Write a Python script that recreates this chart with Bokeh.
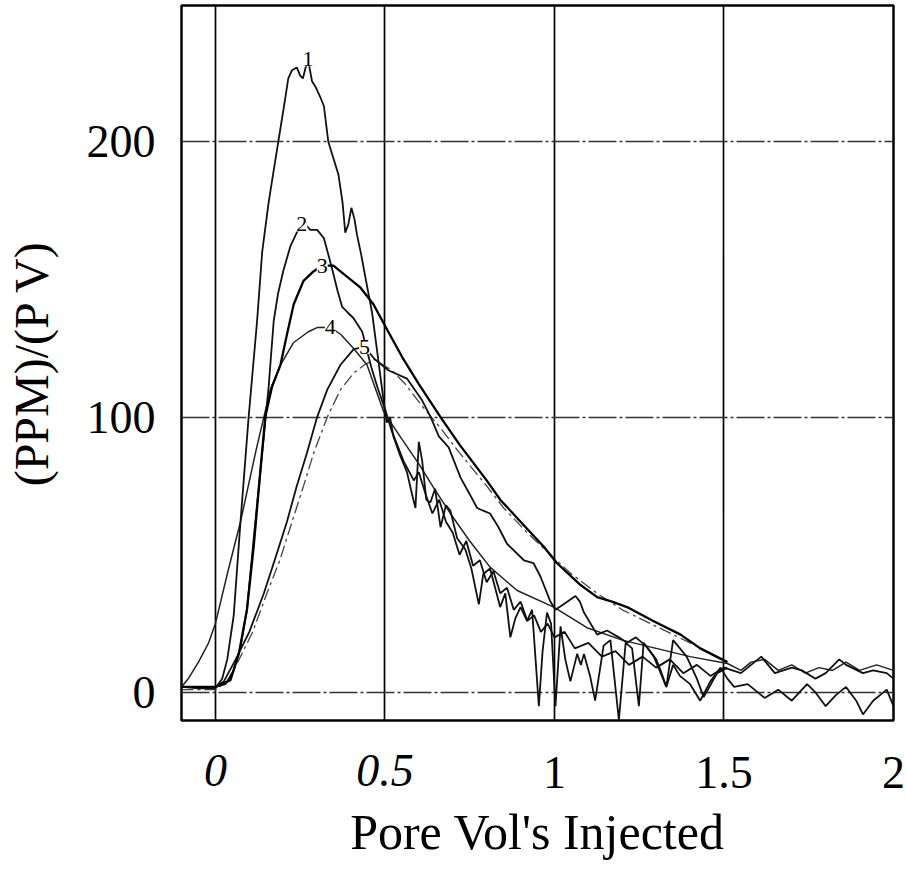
import numpy as np
from bokeh.plotting import figure
from bokeh.models import FixedTicker, Range1d, LinearAxis
from bokeh.embed import file_html
from bokeh.resources import INLINE
from bokeh.core.properties import value

# ---------------- data ----------------
x_ticks = [0, 0.5, 1, 1.5, 2]
x_tick_labels = ["0", "0.5", "1", "1.5", "2"]
x_italic = [True, True, False, False, False]
y_ticks = [0, 100, 200]
y_tick_labels = ["0", "100", "200"]

c1_x = [-0.10, -0.05, 0.00, 0.02, 0.035, 0.054, 0.074, 0.098, 0.123, 0.138, 0.157, 0.175, 0.192, 0.205, 0.215,
        0.226, 0.24, 0.25, 0.258, 0.266, 0.273, 0.285, 0.295, 0.31, 0.32, 0.333, 0.348, 0.363, 0.375, 0.383,
        0.392, 0.401, 0.41, 0.418, 0.43, 0.442, 0.462, 0.477, 0.496, 0.505, 0.515, 0.525, 0.545, 0.565, 0.58,
        0.59, 0.60, 0.61, 0.622, 0.634, 0.648, 0.664, 0.68, 0.693, 0.713, 0.737, 0.755, 0.777, 0.79, 0.81,
        0.825, 0.84, 0.855, 0.87, 0.885, 0.90, 0.919, 0.934, 0.954, 0.965, 0.978, 0.99, 1.003, 1.018, 1.032,
        1.047, 1.067, 1.078, 1.087, 1.105, 1.12, 1.145, 1.165, 1.19, 1.21, 1.229, 1.249, 1.263, 1.293, 1.31,
        1.33, 1.35, 1.37, 1.40, 1.43, 1.46, 1.49, 1.51, 1.53, 1.57, 1.62, 1.66, 1.70, 1.745, 1.77, 1.80,
        1.83, 1.86, 1.89, 1.91, 1.94, 1.98, 2.0]
c1_y = [2, 1.5, 1.5, 5, 12, 28, 62, 100, 135, 160, 178, 192, 205, 215, 223,
        226, 227, 224, 223, 227, 230, 222, 220, 216, 213, 200, 194, 188, 178, 167,
        170, 176, 172, 166, 159, 151, 138, 124, 106, 98, 100, 93, 86, 80, 72,
        67, 91, 84, 70, 69, 74, 60, 68, 66, 56, 52, 45, 32, 43, 45,
        38, 31, 36, 20, 27, 31, 26, 30, -5, 15, 29, 25, -5, 24, 12,
        4, 14, 10, 14, 6, -3, 17, 19, -10, 18, 16, -5, 18, 13, 8,
        2, 10, 6, 3, -3, 4, 9, 5, 2, 3, -2, 1, -3, 3, 0, -5,
        -1, 2, -3, -8, -3, 1, -5]

c2_x = [-0.10, -0.05, 0.00, 0.03, 0.054, 0.074, 0.093, 0.113, 0.138, 0.157, 0.172, 0.185, 0.20, 0.221, 0.24,
        0.255, 0.265, 0.28, 0.30, 0.32, 0.344, 0.36, 0.374, 0.39, 0.407, 0.433, 0.46, 0.48, 0.50, 0.52,
        0.555, 0.585, 0.60, 0.62, 0.64, 0.66, 0.68, 0.70, 0.72, 0.74, 0.76, 0.78, 0.80, 0.82, 0.84,
        0.86, 0.88, 0.90, 0.92, 0.94, 0.96, 0.98, 1.0, 1.03, 1.06, 1.10, 1.14, 1.18, 1.22, 1.26,
        1.30, 1.34, 1.38, 1.42, 1.46, 1.50, 1.55, 1.61, 1.65, 1.70, 1.73, 1.77, 1.80, 1.84, 1.86,
        1.91, 1.94, 1.98, 2.0]
c2_y = [2, 2, 2, 3, 8, 16.5, 30, 56, 87, 111, 135, 145, 153, 162, 167,
        170, 170, 168, 168, 165, 154, 146, 140, 138, 136, 131, 118, 110, 103, 95,
        84, 77, 80, 72, 65, 70, 62, 58, 50, 55, 46, 48, 40, 44, 36,
        38, 30, 33, 26, 28, 22, 25, 20, 22, 16, 18, 13, 15, 10, 13,
        9, 12, 7, 10, 6, 9, 7, 13, 7, 9, 8, 5, 7, 12, 10,
        7, 8, 7, 5]

c3_x = [-0.10, 0.0, 0.044, 0.069, 0.093, 0.113, 0.133, 0.147, 0.167, 0.192, 0.211, 0.231, 0.26, 0.29, 0.315,
        0.348, 0.378, 0.428, 0.466, 0.501, 0.55, 0.60, 0.664, 0.72, 0.8, 0.84, 0.90, 0.968, 1.007, 1.077,
        1.126, 1.17, 1.214, 1.29, 1.372, 1.43, 1.51]
c3_y = [2, 2, 4.4, 14, 30, 53, 81, 100, 111, 119, 130, 141, 149.5, 153, 155,
        155, 152, 147, 141, 133, 122, 112, 100, 90, 77, 70, 62, 53, 47, 39,
        34.6, 33, 31, 26, 21, 16, 11]

c4_x = [-0.10, -0.08, -0.05, -0.02, 0.0, 0.037, 0.074, 0.12, 0.162, 0.192, 0.23, 0.274, 0.30, 0.339, 0.37,
        0.407, 0.447, 0.496, 0.55, 0.60, 0.643, 0.693, 0.75, 0.81, 0.89, 0.998, 1.096, 1.2, 1.3, 1.4,
        1.51, 1.55, 1.58, 1.62, 1.66, 1.70, 1.74, 1.78, 1.82, 1.86, 1.90, 1.95, 2.0]
c4_y = [2, 5, 11, 18, 25, 44, 62, 88, 110, 119, 127, 131, 132.5, 132.6, 130,
        125, 119, 102, 92, 83, 74.5, 65, 55, 45.5, 37, 31, 23.5, 19, 16, 13,
        10.5, 8, 11, 12, 8, 10, 7, 9, 8, 11, 8, 10, 8]

c5_x = [-0.10, 0.0, 0.025, 0.06, 0.10, 0.143, 0.18, 0.211, 0.24, 0.27, 0.30, 0.33, 0.369, 0.408, 0.44,
        0.47, 0.51, 0.565, 0.61, 0.635, 0.659, 0.688, 0.723, 0.75, 0.772, 0.79, 0.81, 0.835, 0.86, 0.91,
        0.938, 0.959, 0.988, 1.003, 1.027, 1.062, 1.075, 1.087, 1.126, 1.155, 1.19, 1.214, 1.24, 1.273, 1.30,
        1.313, 1.33, 1.35, 1.37, 1.39, 1.42, 1.44, 1.48, 1.51]
c5_y = [2, 2, 4, 12, 22, 36, 50, 62, 75, 87, 100, 110, 119, 124.7, 125.5,
        121, 117, 114, 106, 100, 93, 89, 78, 72, 67, 66, 65, 60, 54, 48,
        47, 42, 33, 30, 32, 35, 33, 29, 21, 22.5, 20, 18, 20, 16.5, 12,
        8, 2, 19, 16, 13, 5, -1.7, 7, 9]

c6_x = [-0.10, 0.0, 0.035, 0.07, 0.11, 0.152, 0.19, 0.221, 0.26, 0.29, 0.33, 0.369, 0.408, 0.44, 0.47,
        0.48, 0.52, 0.56, 0.61, 0.664, 0.72, 0.8, 0.85, 0.92, 0.98, 1.05, 1.126, 1.2, 1.3, 1.4, 1.51]
c6_y = [1, 1, 4, 12, 22, 36, 48, 60, 75, 87, 100, 110, 116, 119, 121,
        120, 117, 112, 104, 96, 87, 75, 67, 58, 51, 43, 36, 30, 24, 18, 11]

curve_names = ["1", "2", "3", "4", "5"]

# ---------------- figure ----------------
FONT = "Liberation Serif"
p = figure(width=906, height=869,
           x_range=Range1d(-0.1, 2.0), y_range=Range1d(-10.2, 249.5),
           output_backend="svg", toolbar_location=None, x_axis_location=None,
           min_border_left=181, min_border_right=13,
           min_border_top=5, min_border_bottom=149)

p.background_fill_color = "white"
p.border_fill_color = "white"
p.outline_line_color = "black"
p.outline_line_width = 2.5

# x axes: upright labels (closest to frame), then italic labels pulled up onto the same row
up_ticks = [t for t, it in zip(x_ticks, x_italic) if not it]
it_ticks = [t for t, it in zip(x_ticks, x_italic) if it]
ax_up = LinearAxis(ticker=FixedTicker(ticks=up_ticks),
                   major_label_overrides={t: l for t, l, it in zip(x_ticks, x_tick_labels, x_italic) if not it})
ax_it = LinearAxis(ticker=FixedTicker(ticks=it_ticks),
                   major_label_overrides={t: l for t, l, it in zip(x_ticks, x_tick_labels, x_italic) if it},
                   axis_label="Pore Vol's Injected")
p.add_layout(ax_up, "below")
p.add_layout(ax_it, "below")
ax_up.major_label_standoff = 30
ax_it.major_label_standoff = -42
ax_it.major_label_text_font_style = "italic"
ax_it.axis_label_text_font_size = "50px"
ax_it.axis_label_standoff = 15

p.yaxis.ticker = FixedTicker(ticks=y_ticks)
p.yaxis.major_label_overrides = {t: lab for t, lab in zip(y_ticks, y_tick_labels)}
p.yaxis.axis_label = "(PPM)/(P V)"
p.yaxis.axis_label_text_font_size = "48px"
p.yaxis.major_label_standoff = 20
p.yaxis.axis_label_standoff = 26

for ax in (ax_up, ax_it, p.yaxis[0]):
    ax.axis_line_color = None
    ax.major_tick_line_color = None
    ax.minor_tick_line_color = None
    ax.major_label_text_font = FONT
    ax.major_label_text_font_size = "46px"
    ax.major_label_text_color = "black"
    ax.axis_label_text_font = FONT
    ax.axis_label_text_font_style = "normal"
    ax.axis_label_text_color = "black"

# grids
p.xgrid.ticker = FixedTicker(ticks=x_ticks[:-1])
p.xgrid.grid_line_color = "black"
p.xgrid.grid_line_width = 1.7
p.ygrid.ticker = FixedTicker(ticks=y_ticks)
p.ygrid.grid_line_color = "#333333"
p.ygrid.grid_line_width = 1.3
p.ygrid.grid_line_dash = "28 3 3 3"

# curves
p.line(c6_x, c6_y, line_color="#444444", line_width=1.3, line_dash="12 4 3 4")
p.line(c4_x, c4_y, line_color="#222222", line_width=1.5)
p.line(c5_x, c5_y, line_color="#111111", line_width=1.8)
p.line(c2_x, c2_y, line_color="#111111", line_width=1.8)
p.line(c1_x, c1_y, line_color="#111111", line_width=1.8)
p.line(c3_x, c3_y, line_color="black", line_width=2.3)

# curve number labels at each curve's peak
peaks = []
for cx, cy in [(c1_x, c1_y), (c2_x, c2_y), (c3_x, c3_y), (c4_x, c4_y), (c5_x, c5_y)]:
    i = int(np.argmax(cy))
    peaks.append((cx[i], cy[i]))
p.text(x=[pk[0] for pk in peaks], y=[pk[1] for pk in peaks], text=curve_names,
       text_font=value(FONT), text_font_size="22px", text_align="center",
       text_baseline="middle", text_color="black",
       background_fill_color="white")

open("out.html", "w").write(file_html(p, INLINE))
